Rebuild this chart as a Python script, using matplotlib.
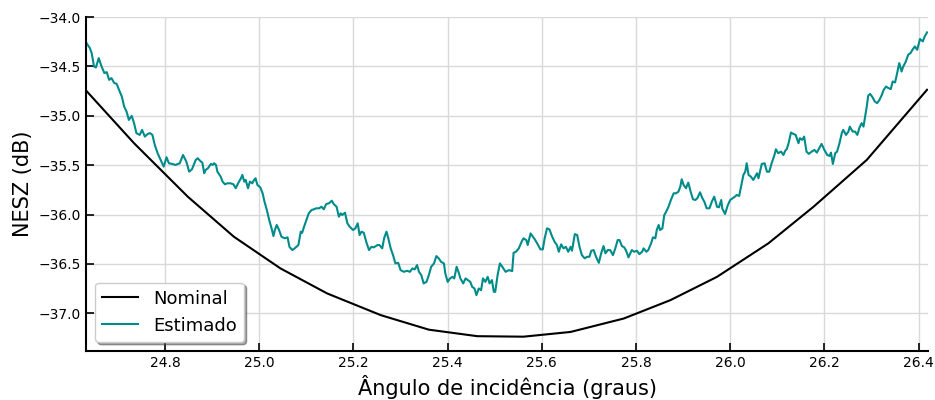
import matplotlib
matplotlib.use("Agg")
from matplotlib import pyplot as plt

# NESZ nominal (curva suave, vertices)
ang_nom = [24.632, 24.734, 24.848, 24.946, 25.045, 25.144, 25.258, 25.360,
           25.463, 25.561, 25.661, 25.774, 25.873, 25.972, 26.081, 26.177,
           26.290, 26.418]
nesz_nom = [-34.744, -35.278, -35.819, -36.225, -36.546, -36.799, -37.019,
            -37.166, -37.232, -37.237, -37.189, -37.053, -36.867, -36.631,
            -36.292, -35.921, -35.447, -34.737]

# NESZ estimado
ang_est = [
    24.633, 24.640, 24.644, 24.649, 24.653, 24.659, 24.665, 24.671, 24.676, 24.681,
    24.686, 24.692, 24.697, 24.702, 24.708, 24.713, 24.718, 24.723, 24.729, 24.734,
    24.739, 24.746, 24.751, 24.757, 24.763, 24.768, 24.773, 24.778, 24.784, 24.792,
    24.797, 24.803, 24.808, 24.815, 24.822, 24.831, 24.838, 24.845, 24.851, 24.857,
    24.865, 24.869, 24.876, 24.879, 24.883, 24.886, 24.891, 24.897, 24.901, 24.904,
    24.908, 24.911, 24.918, 24.922, 24.927, 24.932, 24.939, 24.945, 24.950, 24.955,
    24.961, 24.964, 24.968, 24.971, 24.976, 24.980, 24.985, 24.989, 24.992, 24.996,
    25.002, 25.007, 25.011, 25.016, 25.021, 25.026, 25.030, 25.033, 25.037, 25.042,
    25.047, 25.054, 25.060, 25.064, 25.070, 25.075,
    25.083, 25.088, 25.091, 25.095, 25.100, 25.105, 25.111, 25.116, 25.121, 25.127,
    25.132, 25.137, 25.142, 25.148, 25.154, 25.158, 25.164, 25.169, 25.173, 25.176,
    25.182, 25.187, 25.192, 25.199, 25.204, 25.209, 25.213, 25.217, 25.222, 25.227,
    25.233, 25.238, 25.243, 25.251, 25.255, 25.261, 25.265, 25.270, 25.274, 25.279,
    25.284, 25.289, 25.295, 25.300,
    25.307, 25.314, 25.320, 25.325, 25.330, 25.335, 25.339, 25.344, 25.349, 25.355,
    25.360, 25.365, 25.371, 25.376, 25.381, 25.386, 25.392, 25.395, 25.400, 25.405,
    25.410, 25.414, 25.419, 25.424, 25.427, 25.433, 25.438, 25.443, 25.448, 25.452,
    25.457, 25.461, 25.466, 25.471, 25.475, 25.480, 25.485, 25.489, 25.494, 25.498,
    25.501, 25.506, 25.511, 25.516, 25.523, 25.530,
    25.537, 25.540, 25.545, 25.551, 25.557, 25.561, 25.567, 25.570, 25.576, 25.581,
    25.586, 25.592, 25.597, 25.602, 25.606, 25.611, 25.616, 25.622, 25.627, 25.632,
    25.636, 25.641, 25.646, 25.651, 25.656, 25.661, 25.664, 25.670, 25.675, 25.680,
    25.685, 25.691, 25.696, 25.701, 25.705, 25.710, 25.715, 25.721, 25.726, 25.731,
    25.735, 25.740,
    25.745, 25.751, 25.756, 25.761, 25.765, 25.770, 25.775, 25.779, 25.784, 25.788,
    25.791, 25.796, 25.802, 25.807, 25.813, 25.816, 25.822, 25.826, 25.832, 25.836,
    25.841, 25.844, 25.848, 25.851, 25.856, 25.860, 25.864, 25.869, 25.874, 25.880,
    25.885, 25.890, 25.894, 25.897, 25.901, 25.906, 25.911, 25.916, 25.921, 25.926,
    25.930, 25.936, 25.940, 25.945, 25.950, 25.956, 25.961, 25.966,
    25.972, 25.976, 25.981, 25.983, 25.989, 25.995, 26.000, 26.005, 26.010, 26.014,
    26.019, 26.023, 26.028, 26.032, 26.035, 26.039, 26.044, 26.049, 26.053, 26.057,
    26.060, 26.064, 26.067, 26.073, 26.078, 26.083, 26.088, 26.094, 26.097, 26.102,
    26.108, 26.113, 26.117, 26.120, 26.124, 26.129, 26.134, 26.139, 26.145, 26.148,
    26.153, 26.157, 26.162, 26.167, 26.173, 26.179, 26.184, 26.189, 26.194, 26.200,
    26.206, 26.211, 26.214, 26.218, 26.223, 26.227, 26.232, 26.237, 26.240, 26.246,
    26.251, 26.254, 26.260, 26.265, 26.270, 26.274, 26.279, 26.283, 26.286, 26.290,
    26.293, 26.297, 26.302, 26.307, 26.312, 26.317, 26.322, 26.326, 26.331, 26.336,
    26.341, 26.345, 26.350, 26.353, 26.359, 26.364, 26.367, 26.373, 26.378, 26.383,
    26.387, 26.392, 26.397, 26.403, 26.409, 26.413, 26.418,
]
nesz_est = [
    -34.264, -34.314, -34.365, -34.501, -34.511, -34.416, -34.501, -34.568, -34.558, -34.636,
    -34.619, -34.669, -34.676, -34.737, -34.805, -34.907, -34.957, -35.042, -35.001, -35.075,
    -35.176, -35.194, -35.143, -35.211, -35.184, -35.176, -35.194, -35.295, -35.379, -35.464,
    -35.515, -35.420, -35.481, -35.488, -35.498, -35.481, -35.397, -35.464, -35.566, -35.542,
    -35.447, -35.430, -35.464, -35.475, -35.582, -35.549, -35.531, -35.488, -35.498, -35.481,
    -35.498, -35.566, -35.617, -35.667, -35.694, -35.684, -35.684, -35.694, -35.734, -35.684,
    -35.633, -35.599, -35.667, -35.650, -35.734, -35.667, -35.684, -35.650, -35.633, -35.701,
    -35.724, -35.785, -35.870, -35.954, -36.056, -36.140, -36.218, -36.157, -36.106, -36.157,
    -36.225, -36.241, -36.231, -36.327, -36.360, -36.343,
    -36.309, -36.174, -36.185, -36.124, -36.056, -35.988, -35.954, -35.947, -35.937, -35.937,
    -35.921, -35.947, -35.894, -35.886, -35.860, -35.894, -35.921, -36.022, -35.988, -36.005,
    -35.982, -36.089, -36.124, -36.157, -36.140, -36.089, -36.208, -36.174, -36.185, -36.276,
    -36.360, -36.327, -36.333, -36.309, -36.309, -36.343, -36.241, -36.174, -36.241, -36.343,
    -36.411, -36.495, -36.489, -36.563,
    -36.580, -36.570, -36.580, -36.546, -36.556, -36.512, -36.580, -36.614, -36.698, -36.682,
    -36.614, -36.529, -36.495, -36.421, -36.444, -36.479, -36.495, -36.596, -36.682, -36.647,
    -36.631, -36.647, -36.529, -36.596, -36.647, -36.698, -36.647, -36.664, -36.682, -36.732,
    -36.749, -36.816, -36.749, -36.766, -36.647, -36.682, -36.631, -36.698, -36.664, -36.783,
    -36.783, -36.614, -36.495, -36.529, -36.580, -36.563,
    -36.573, -36.387, -36.377, -36.343, -36.276, -36.241, -36.259, -36.309, -36.191, -36.225,
    -36.259, -36.309, -36.353, -36.353, -36.241, -36.140, -36.150, -36.225, -36.276, -36.309,
    -36.377, -36.302, -36.343, -36.327, -36.377, -36.327, -36.367, -36.198, -36.208, -36.327,
    -36.411, -36.444, -36.428, -36.428, -36.367, -36.360, -36.428, -36.489, -36.393, -36.319,
    -36.393, -36.360,
    -36.360, -36.411, -36.343, -36.259, -36.259, -36.319, -36.333, -36.367, -36.434, -36.393,
    -36.360, -36.377, -36.367, -36.401, -36.377, -36.343, -36.377, -36.360, -36.292, -36.231,
    -36.241, -36.157, -36.106, -36.157, -36.140, -36.005, -35.972, -35.921, -35.853, -35.785,
    -35.785, -35.769, -35.718, -35.643, -35.701, -35.734, -35.677, -35.769, -35.846, -35.853,
    -35.836, -35.775, -35.826, -35.870, -35.937, -35.937, -35.870, -35.819,
    -35.921, -35.927, -35.853, -35.937, -35.995, -35.904, -35.853, -35.836, -35.819, -35.802,
    -35.812, -35.718, -35.599, -35.566, -35.481, -35.599, -35.617, -35.650, -35.617, -35.582,
    -35.633, -35.549, -35.488, -35.481, -35.566, -35.566, -35.481, -35.397, -35.339, -35.379,
    -35.363, -35.397, -35.353, -35.339, -35.278, -35.170, -35.184, -35.194, -35.278, -35.227,
    -35.244, -35.211, -35.363, -35.386, -35.363, -35.346, -35.373, -35.329, -35.285, -35.346,
    -35.397, -35.407, -35.373, -35.488, -35.379, -35.363, -35.278, -35.176, -35.143, -35.194,
    -35.160, -35.110, -35.160, -35.160, -35.194, -35.126, -35.075, -35.110, -35.024, -34.907,
    -34.798, -34.778, -34.811, -34.856, -34.872, -34.839, -34.788, -34.737, -34.704, -34.720,
    -34.730, -34.653, -34.663, -34.602, -34.467, -34.552, -34.507, -34.450, -34.382, -34.365,
    -34.332, -34.298, -34.332, -34.223, -34.247, -34.197, -34.156,
]

x_ticks = [24.8, 25.0, 25.2, 25.4, 25.6, 25.8, 26.0, 26.2, 26.4]
y_ticks = [-37.0, -36.5, -36.0, -35.5, -35.0, -34.5, -34.0]


def display():
    fig = plt.figure(figsize=(9.35, 4.0), dpi=100)
    ax = fig.add_axes([0.092, 0.1225, 0.9005, 0.835])

    ax.plot(ang_nom, nesz_nom, color='black', lw=1.5, label='Nominal')
    ax.plot(ang_est, nesz_est, color='darkcyan', lw=1.5, label='Estimado')

    ax.set_xlim(24.632, 26.42)
    ax.set_ylim(-37.382, -34.0)
    ax.set_xticks(x_ticks)
    ax.set_yticks(y_ticks)
    ax.grid(True, color='0.85', lw=1.0)
    ax.set_axisbelow(True)

    for s in ['top', 'right']:
        ax.spines[s].set_visible(False)
    for s in ['left', 'bottom']:
        ax.spines[s].set_linewidth(1.5)
    ax.tick_params(direction='in', length=6, width=1.2, labelsize=10)

    ax.set_xlabel('Ângulo de incidência (graus)', fontsize=15)
    ax.set_ylabel('NESZ (dB)', fontsize=15)

    ax.legend(loc='lower left', fontsize=13, shadow=True, fancybox=True)

    fig.savefig('out.png', dpi=100)


if __name__ == "__main__":
    display()
